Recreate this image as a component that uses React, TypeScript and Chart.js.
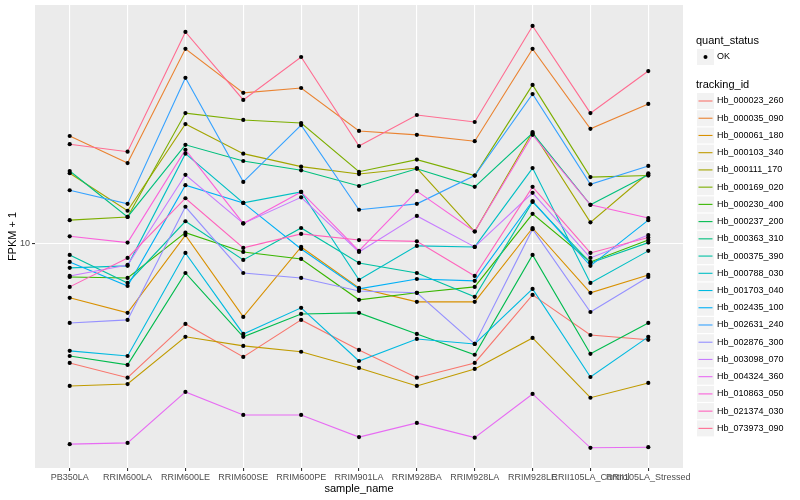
import React, { useEffect, useRef } from "react";
import { Chart, registerables } from "chart.js";

Chart.register(...registerables);

const FONT = "'Liberation Sans', Arial, Helvetica, sans-serif";

// Categories (x axis)
const sampleNames = [
  "PB350LA",
  "RRIM600LA",
  "RRIM600LE",
  "RRIM600SE",
  "RRIM600PE",
  "RRIM901LA",
  "RRIM928BA",
  "RRIM928LA",
  "RRIM928LE",
  "RRII105LA_Control",
  "RRII105LA_Stressed",
];

// Series names (legend order)
const trackingIds = [
  "Hb_000023_260",
  "Hb_000035_090",
  "Hb_000061_180",
  "Hb_000103_340",
  "Hb_000111_170",
  "Hb_000169_020",
  "Hb_000230_400",
  "Hb_000237_200",
  "Hb_000363_310",
  "Hb_000375_390",
  "Hb_000788_030",
  "Hb_001703_040",
  "Hb_002435_100",
  "Hb_002631_240",
  "Hb_002876_300",
  "Hb_003098_070",
  "Hb_004324_360",
  "Hb_010863_050",
  "Hb_021374_030",
  "Hb_073973_090",
];

const seriesColors = [
  "#F8766D", "#EA8331", "#D89000", "#C09B00", "#A3A500",
  "#7CAE00", "#39B600", "#00BB4E", "#00BF7D", "#00C1A3",
  "#00BFC4", "#00BAE0", "#00B0F6", "#35A2FF", "#9590FF",
  "#C77CFF", "#E76BF3", "#FA62DB", "#FF62BC", "#FF6C91",
];

// FPKM + 1 values per gene, in sampleNames order
const hb000023_260 = [4.01, 3.58, 5.41, 4.2, 5.58, 4.43, 3.58, 4.01, 6.76, 4.97, 4.79];
const hb000035_090 = [22.9, 18.6, 44.7, 31.9, 33.1, 23.8, 23.1, 22.0, 44.7, 24.2, 29.3];
const hb000061_180 = [6.61, 5.89, 10.7, 5.71, 9.77, 7.13, 6.41, 6.41, 11.3, 6.87, 7.88];
const hb000103_340 = [3.36, 3.41, 4.9, 4.57, 4.37, 3.86, 3.36, 3.83, 4.86, 3.07, 3.44];
const hb000111_170 = [17.2, 12.9, 25.1, 20.0, 18.1, 17.1, 17.9, 11.0, 23.6, 11.8, 17.2];
const hb000169_020 = [12.0, 12.3, 27.3, 25.9, 25.3, 17.4, 19.1, 16.9, 33.9, 16.7, 16.9];
const hb000230_400 = [7.76, 7.7, 10.9, 9.4, 8.91, 6.51, 6.87, 7.19, 12.6, 8.71, 10.3];
const hb000237_200 = [4.23, 3.95, 8.0, 4.9, 5.84, 5.89, 5.01, 4.27, 9.19, 4.3, 5.45];
const hb000363_310 = [17.5, 12.3, 21.4, 18.9, 17.6, 15.6, 17.8, 15.5, 23.4, 13.5, 17.0];
const hb000375_390 = [9.19, 7.41, 11.9, 8.84, 11.3, 8.64, 8.0, 6.66, 13.8, 8.64, 10.1];
const hb000788_030 = [8.32, 8.45, 20.0, 13.7, 14.9, 7.59, 9.85, 9.77, 17.9, 7.41, 9.48];
const hb001703_040 = [4.4, 4.23, 9.33, 5.01, 6.12, 4.07, 4.82, 4.64, 7.08, 3.6, 4.9];
const hb002435_100 = [8.71, 7.24, 15.7, 13.7, 9.62, 7.08, 7.64, 7.53, 13.9, 8.45, 12.0];
const hb002631_240 = [15.1, 13.6, 35.8, 16.1, 24.9, 13.0, 13.6, 16.9, 31.6, 15.8, 18.2];
const hb002876_300 = [5.45, 5.58, 13.3, 8.0, 7.7, 6.97, 6.87, 4.64, 11.2, 5.93, 7.76];
const hb003098_070 = [7.82, 8.51, 17.0, 11.7, 14.3, 9.4, 12.4, 9.77, 14.8, 8.98, 10.7];
const hb004324_360 = [2.15, 2.17, 3.21, 2.69, 2.69, 2.27, 2.53, 2.26, 3.16, 2.09, 2.1];
const hb010863_050 = [10.6, 10.1, 20.6, 11.7, 14.9, 9.48, 15.0, 11.0, 23.1, 13.5, 12.2];
const hb021374_030 = [7.19, 8.98, 14.2, 9.7, 10.8, 10.3, 10.2, 7.82, 15.5, 9.33, 10.5];
const hb073973_090 = [21.5, 20.3, 50.9, 30.2, 42.0, 21.2, 26.9, 25.5, 53.3, 27.3, 37.7];

const seriesValues = [
  hb000023_260, hb000035_090, hb000061_180, hb000103_340, hb000111_170,
  hb000169_020, hb000230_400, hb000237_200, hb000363_310, hb000375_390,
  hb000788_030, hb001703_040, hb002435_100, hb002631_240, hb002876_300,
  hb003098_070, hb004324_360, hb010863_050, hb021374_030, hb073973_090,
];

const yTicks = [10];
const yMin = 1.79;
const yMax = 62.6;

const panelBackground = {
  id: "panelBackground",
  beforeDraw(chart: any) {
    const { ctx, chartArea: a } = chart;
    ctx.save();
    ctx.fillStyle = "#EBEBEB";
    ctx.fillRect(a.left, a.top, a.right - a.left, a.bottom - a.top);
    ctx.restore();
  },
};

const ggLegend = {
  id: "ggLegend",
  afterDraw(chart: any) {
    const ctx = chart.ctx as CanvasRenderingContext2D;
    const x0 = 696;
    ctx.save();
    ctx.textAlign = "left";
    ctx.textBaseline = "middle";
    ctx.fillStyle = "#000";
    ctx.font = `11px ${FONT}`;
    ctx.fillText("quant_status", x0, 41);
    ctx.fillStyle = "#F2F2F2";
    ctx.fillRect(697, 49, 17, 16);
    ctx.fillStyle = "#000";
    ctx.beginPath();
    ctx.arc(705.5, 57, 2, 0, Math.PI * 2);
    ctx.fill();
    ctx.font = `9px ${FONT}`;
    ctx.fillText("OK", 717, 57);

    ctx.font = `11px ${FONT}`;
    ctx.fillText("tracking_id", x0, 85);
    ctx.font = `9px ${FONT}`;
    trackingIds.forEach((name, i) => {
      const cy = 101 + i * 17.23;
      ctx.fillStyle = "#F2F2F2";
      ctx.fillRect(697, cy - 8, 17, 16);
      ctx.strokeStyle = seriesColors[i];
      ctx.lineWidth = 1.1;
      ctx.beginPath();
      ctx.moveTo(698.5, cy);
      ctx.lineTo(712.5, cy);
      ctx.stroke();
      ctx.fillStyle = "#000";
      ctx.fillText(name, 717, cy);
    });
    ctx.restore();
  },
};

export default function App() {
  const canvasRef = useRef<HTMLCanvasElement | null>(null);

  useEffect(() => {
    if (!canvasRef.current) return;
    const n = seriesValues.length;
    const lineSets = seriesValues.map((vals, i) => ({
      type: "line" as const,
      label: trackingIds[i],
      data: vals.map((v, j) => ({ x: j, y: v })),
      borderColor: seriesColors[i],
      backgroundColor: seriesColors[i],
      borderWidth: 1.1,
      pointRadius: 0,
      tension: 0,
      fill: false,
      order: n - i,
    }));
    const pointSet = {
      type: "scatter" as const,
      label: "OK",
      data: seriesValues.flatMap((vals) => vals.map((v, j) => ({ x: j, y: v }))),
      backgroundColor: "#000",
      borderWidth: 0,
      pointRadius: 2.1,
      pointStyle: "circle",
      showLine: false,
      order: -100,
    };

    const chart = new Chart(canvasRef.current, {
      type: "line",
      data: { datasets: [...lineSets, pointSet] as any },
      options: {
        animation: false,
        responsive: false,
        events: [],
        layout: { padding: { left: 0, right: 117, top: 5, bottom: 0 } },
        plugins: {
          legend: { display: false },
          tooltip: { enabled: false },
          title: { display: false },
        },
        scales: {
          x: {
            type: "linear",
            min: -0.6,
            max: 10.6,
            border: { display: false },
            grid: {
              color: "#FFFFFF",
              lineWidth: 1.1,
              tickColor: "#333333",
              tickLength: 3,
              drawOnChartArea: true,
            },
            ticks: {
              autoSkip: false,
              maxRotation: 0,
              minRotation: 0,
              padding: 1,
              color: "#4D4D4D",
              font: { family: FONT, size: 9 },
              callback: (v: any) => sampleNames[Number(v)] ?? "",
            },
            afterBuildTicks: (scale: any) => {
              scale.ticks = sampleNames.map((_, i) => ({ value: i }));
            },
            afterFit: (scale: any) => {
              scale.height = 32;
              scale.paddingLeft = 0;
              scale.paddingRight = 0;
            },
            title: {
              display: true,
              text: "sample_name",
              color: "#000",
              font: { family: FONT, size: 11 },
              padding: { top: 0, bottom: 4 },
            },
          },
          y: {
            type: "logarithmic",
            min: yMin,
            max: yMax,
            border: { display: false },
            grid: {
              color: "#FFFFFF",
              lineWidth: 1.1,
              tickColor: "#333333",
              tickLength: 3,
            },
            ticks: {
              padding: 2,
              color: "#4D4D4D",
              font: { family: FONT, size: 9 },
              callback: (v: any) => String(v),
            },
            afterBuildTicks: (scale: any) => {
              scale.ticks = yTicks.map((v) => ({ value: v }));
            },
            afterFit: (scale: any) => {
              scale.width = 35;
              scale.paddingTop = 0;
              scale.paddingBottom = 0;
            },
            title: {
              display: true,
              text: "FPKM + 1",
              color: "#000",
              font: { family: FONT, size: 11 },
              padding: { top: 6, bottom: 0 },
            },
          },
        },
      },
      plugins: [panelBackground, ggLegend],
    } as any);

    return () => chart.destroy();
  }, []);

  return (
    <div style={{ position: "absolute", left: 0, top: 0, width: 800, height: 500, background: "#fff" }}>
      <canvas ref={canvasRef} width={800} height={500} style={{ display: "block", width: 800, height: 500 }} />
    </div>
  );
}
